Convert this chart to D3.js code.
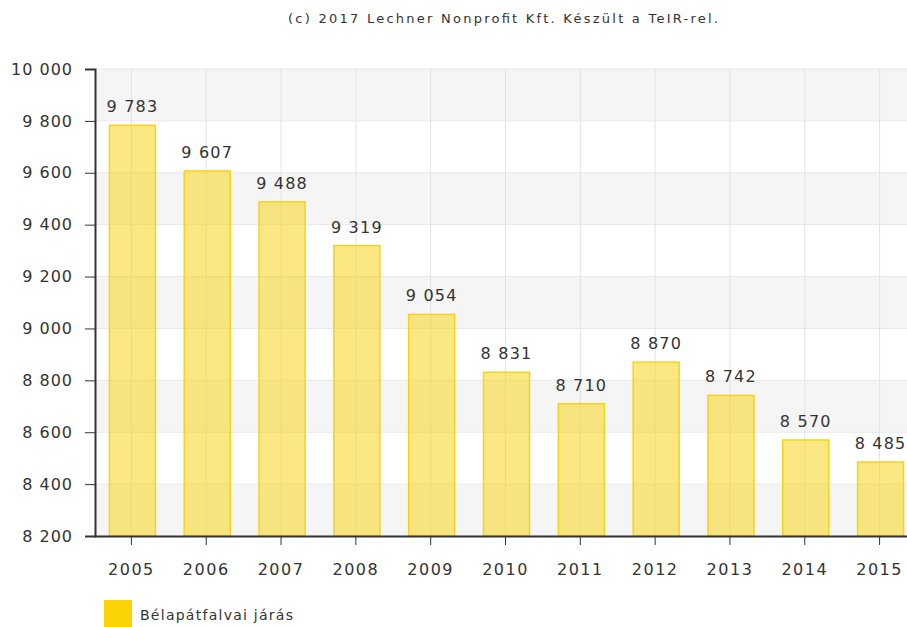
<!DOCTYPE html>
<html>
<head>
<meta charset="utf-8">
<script src="https://cdn.jsdelivr.net/npm/d3@7"></script>
<style>
  body { margin: 0; background: #fff; }
  text { font-family: "DejaVu Sans", Verdana, sans-serif; fill: #333; }
</style>
</head>
<body>
<div id="chart"></div>
<script>
// data
var years = ["2005","2006","2007","2008","2009","2010","2011","2012","2013","2014","2015"];
var values = [9783, 9607, 9488, 9319, 9054, 8831, 8710, 8870, 8742, 8570, 8485];
var yTicks = [8200, 8400, 8600, 8800, 9000, 9200, 9400, 9600, 9800, 10000];
var seriesName = "Bélapátfalvai járás";
var credit = "(c) 2017 Lechner Nonprofit Kft. Készült a TeIR-rel.";

var W = 907, H = 627;
// plot runs a little past the right edge of the picture
var margin = {top: 69, left: 95},
    width = 823,
    height = 467;

var fmt = function(v) { return d3.format(",")(v).replace(/,/g, " "); };

var svg = d3.select("#chart").append("svg")
    .attr("width", W)
    .attr("height", H);

// credit line
svg.append("text")
    .attr("x", 288).attr("y", 23)
    .attr("font-size", 13)
    .attr("textLength", 430)
    .text(credit);

var g = svg.append("g")
    .attr("transform", `translate(${margin.left}, ${margin.top})`);

var x = d3.scaleBand().domain(years).range([-1, width - 1]);
var y = d3.scaleLinear().domain([8200, 10000]).range([height, 0]);
var cx = function(d) { return x(d) + x.bandwidth() / 2; };

// alternating bands
var bands = d3.pairs(yTicks).filter(function(d, i) { return i % 2 === 0; });
g.selectAll(".band").data(bands).enter().append("rect")
    .attr("x", 0)
    .attr("width", width)
    .attr("y", function(d) { return y(d[1]); })
    .attr("height", function(d) { return y(d[0]) - y(d[1]); })
    .attr("fill", "#f5f5f5");

// horizontal grid
g.selectAll(".hgrid").data(yTicks).enter().append("line")
    .attr("x1", 0).attr("x2", width)
    .attr("y1", function(d) { return y(d); })
    .attr("y2", function(d) { return y(d); })
    .attr("stroke", "#e8e8e8");

// vertical grid
g.selectAll(".vgrid").data(years).enter().append("line")
    .attr("x1", cx).attr("x2", cx)
    .attr("y1", 0).attr("y2", height)
    .attr("stroke", "#e3e3e3");

// bars
var bw = 46;
g.selectAll(".bar").data(values).enter().append("rect")
    .attr("x", function(d, i) { return cx(years[i]) - bw / 2 + 1; })
    .attr("width", bw)
    .attr("y", function(d) { return y(d); })
    .attr("height", function(d) { return height - y(d); })
    .attr("fill", "rgba(249,214,30,0.55)")
    .attr("stroke", "#f8d21a")
    .attr("stroke-width", 1.5);

// value labels
g.selectAll(".val").data(values).enter().append("text")
    .attr("x", function(d, i) { return cx(years[i]) + 1; })
    .attr("y", function(d) { return y(d) - 13; })
    .attr("text-anchor", "middle")
    .attr("font-size", 16)
    .attr("letter-spacing", 1.2)
    .text(fmt);

// y axis
var yAxis = g.append("g")
    .call(d3.axisLeft(y).tickValues(yTicks).tickFormat(fmt).tickSize(10).tickPadding(12));
yAxis.select(".domain").attr("stroke", "#333").attr("stroke-width", 2);
yAxis.selectAll(".tick line").attr("stroke", "#333");
yAxis.selectAll(".tick text")
    .attr("font-size", 16)
    .attr("letter-spacing", 1)
    .attr("fill", "#333");

// x axis
var xAxis = g.append("g")
    .attr("transform", `translate(0, ${height})`)
    .call(d3.axisBottom(x).tickSizeInner(9).tickSizeOuter(0).tickPadding(19));
xAxis.select(".domain").attr("stroke", "#333").attr("stroke-width", 2);
xAxis.selectAll(".tick line").attr("stroke", "#333");
xAxis.selectAll(".tick text")
    .attr("font-size", 16)
    .attr("letter-spacing", 1.5)
    .attr("fill", "#333");

// legend
svg.append("rect")
    .attr("x", 104).attr("y", 600)
    .attr("width", 28).attr("height", 27)
    .attr("fill", "#fcd303");
svg.append("text")
    .attr("x", 140).attr("y", 620)
    .attr("font-size", 14)
    .attr("textLength", 153)
    .text(seriesName);
</script>
</body>
</html>
